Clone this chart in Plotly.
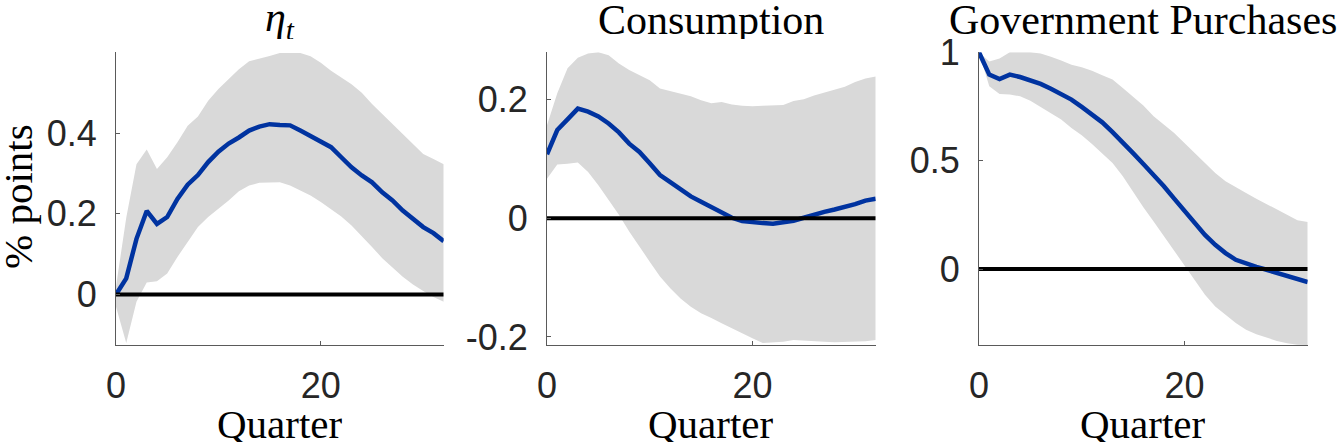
import plotly.graph_objects as go

# Impulse responses over 32 quarters: median path and 68% band
quarters = list(range(33))

eta_mid = [0.0, 0.04, 0.138, 0.207, 0.175, 0.192, 0.237, 0.272, 0.296, 0.328, 0.354,
           0.374, 0.389, 0.406, 0.416, 0.422, 0.42, 0.419, 0.406, 0.393, 0.377, 0.365,
           0.34, 0.315, 0.295, 0.278, 0.253, 0.233, 0.208, 0.188, 0.167, 0.152, 0.132]
eta_hi = [0.02, 0.19, 0.323, 0.359, 0.311, 0.34, 0.377, 0.418, 0.441, 0.48, 0.509,
          0.533, 0.558, 0.578, 0.584, 0.591, 0.598, 0.598, 0.598, 0.59, 0.574, 0.554,
          0.537, 0.521, 0.5, 0.472, 0.447, 0.422, 0.397, 0.373, 0.348, 0.336, 0.323]
eta_lo = [-0.03, -0.12, -0.018, 0.03, 0.033, 0.052, 0.093, 0.13, 0.167, 0.192, 0.212,
          0.233, 0.256, 0.27, 0.277, 0.278, 0.278, 0.27, 0.258, 0.245, 0.229, 0.212,
          0.193, 0.171, 0.144, 0.118, 0.09, 0.066, 0.044, 0.025, 0.009, -0.006, -0.018]

cons_mid = [0.108, 0.149, 0.167, 0.185, 0.18, 0.172, 0.16, 0.145, 0.126, 0.112, 0.093,
            0.073, 0.061, 0.049, 0.037, 0.028, 0.019, 0.008, 0.001, -0.0045, -0.007, -0.008,
            -0.009, -0.007, -0.004, 0.001, 0.007, 0.011, 0.015, 0.019, 0.024, 0.03, 0.033]
cons_hi = [0.157, 0.211, 0.253, 0.271, 0.278, 0.28, 0.275, 0.261, 0.25, 0.242, 0.233,
           0.219, 0.215, 0.211, 0.206, 0.199, 0.194, 0.196, 0.192, 0.19, 0.189, 0.19,
           0.19, 0.191, 0.198, 0.201, 0.207, 0.212, 0.216, 0.222, 0.23, 0.236, 0.239]
cons_lo = [0.067, 0.091, 0.092, 0.094, 0.078, 0.056, 0.031, 0.006, -0.022, -0.048, -0.073,
           -0.098, -0.118, -0.135, -0.149, -0.16, -0.168, -0.177, -0.185, -0.194, -0.202, -0.21,
           -0.209, -0.208, -0.205, -0.205, -0.207, -0.208, -0.209, -0.209, -0.208, -0.207, -0.205]

gov_mid = [1.0, 0.897, 0.877, 0.897, 0.886, 0.871, 0.854, 0.832, 0.808, 0.782, 0.748,
           0.712, 0.677, 0.632, 0.586, 0.535, 0.485, 0.435, 0.382, 0.325, 0.271, 0.212,
           0.158, 0.112, 0.074, 0.043, 0.025, 0.01, -0.003, -0.018, -0.032, -0.045, -0.06]
gov_hi = [1.0, 0.958, 0.971, 1.0, 1.0, 1.0, 0.994, 0.98, 0.962, 0.943, 0.931,
          0.915, 0.894, 0.874, 0.835, 0.797, 0.755, 0.705, 0.666, 0.628, 0.582, 0.535,
          0.489, 0.443, 0.405, 0.377, 0.351, 0.325, 0.3, 0.274, 0.248, 0.225, 0.217]
gov_lo = [1.0, 0.843, 0.808, 0.805, 0.797, 0.777, 0.751, 0.72, 0.69, 0.651, 0.617,
          0.577, 0.535, 0.489, 0.428, 0.358, 0.285, 0.22, 0.151, 0.082, 0.02, -0.05,
          -0.118, -0.172, -0.211, -0.249, -0.28, -0.3, -0.315, -0.331, -0.342, -0.349, -0.35]

panel_titles = ["<i>η</i><sub><i>t</i></sub>", "Consumption", "Government Purchases"]
x_label = "Quarter"
y_label = "% points"

x_tickvals = [0, 20]
y_tickvals = [[0, 0.2, 0.4], [-0.2, 0, 0.2], [0, 0.5, 1]]
y_ticktext = [["0", "0.2", "0.4"], ["-0.2", "0", "0.2"], ["0", "0.5", "1"]]
y_ranges = [[-0.125, 0.6], [-0.2135, 0.28], [-0.35, 1.0]]

panels = [(eta_mid, eta_lo, eta_hi), (cons_mid, cons_lo, cons_hi), (gov_mid, gov_lo, gov_hi)]

W, H = 1343, 448
x_domains = [[116 / W, 443.7 / W], [547 / W, 875.7 / W], [979 / W, 1307.7 / W]]
y_domain = [1 - 345 / H, 1 - 52.3 / H]

BAND = "#d9d9d9"
LINE = "#0033a0"
SERIF = "Liberation Serif, Times New Roman, serif"
SANS = "Liberation Sans, Arial, Helvetica, sans-serif"

fig = go.Figure()

for i, (mid, lo, hi) in enumerate(panels):
    xa = "x" if i == 0 else f"x{i + 1}"
    ya = "y" if i == 0 else f"y{i + 1}"
    fig.add_trace(go.Scatter(
        x=quarters + quarters[::-1], y=hi + lo[::-1],
        fill="toself", fillcolor=BAND, line=dict(width=0),
        mode="lines", hoverinfo="skip", showlegend=False, xaxis=xa, yaxis=ya))
    fig.add_trace(go.Scatter(
        x=quarters, y=mid, mode="lines", line=dict(color=LINE, width=4.5),
        showlegend=False, xaxis=xa, yaxis=ya))
    fig.add_trace(go.Scatter(
        x=[quarters[0], quarters[-1]], y=[0, 0], mode="lines",
        line=dict(color="black", width=4), hoverinfo="skip",
        showlegend=False, xaxis=xa, yaxis=ya))

axis_common = dict(
    showgrid=False, zeroline=False, showline=True, linecolor="#5a5a5a", linewidth=1,
    ticks="inside", ticklen=4, tickwidth=1, tickcolor="#5a5a5a", automargin=False,
    tickfont=dict(family=SANS, size=36, color="#262626"),
)

layout = dict(
    width=W, height=H, margin=dict(l=0, r=0, t=0, b=0, autoexpand=False),
    paper_bgcolor="white", plot_bgcolor="white", showlegend=False,
)
for i in range(3):
    sx = "" if i == 0 else str(i + 1)
    layout[f"xaxis{sx}"] = dict(
        axis_common, domain=x_domains[i], range=[0, 32], tickmode="array",
        tickvals=x_tickvals, ticklabelstandoff=9, anchor="y" + sx)
    layout[f"yaxis{sx}"] = dict(
        axis_common, domain=y_domain, range=y_ranges[i], tickmode="array",
        tickvals=y_tickvals[i], ticktext=y_ticktext[i], ticklabelstandoff=11,
        anchor="x" + sx)

fig.update_layout(**layout)


def px_x(p):
    return p / W


def px_y(p):
    return 1 - p / H


annotations = []
for i in range(3):
    cx = (x_domains[i][0] + x_domains[i][1]) / 2
    annotations.append(dict(
        text=panel_titles[i], x=cx, y=px_y(20), xref="paper", yref="paper",
        xanchor="center", yanchor="middle", showarrow=False, height=38, valign="middle",
        font=dict(family=SERIF, size=42, color="black")))
    annotations.append(dict(
        text=x_label, x=cx, y=px_y(424), xref="paper", yref="paper",
        xanchor="center", yanchor="middle", showarrow=False, height=36, valign="middle",
        font=dict(family=SERIF, size=41, color="black")))
annotations.append(dict(
    text=y_label, x=px_x(18), y=px_y(197), xref="paper", yref="paper",
    xanchor="center", yanchor="middle", showarrow=False, textangle=-90,
    font=dict(family=SERIF, size=41, color="black")))
fig.update_layout(annotations=annotations)

fig.write_html("out.html")
